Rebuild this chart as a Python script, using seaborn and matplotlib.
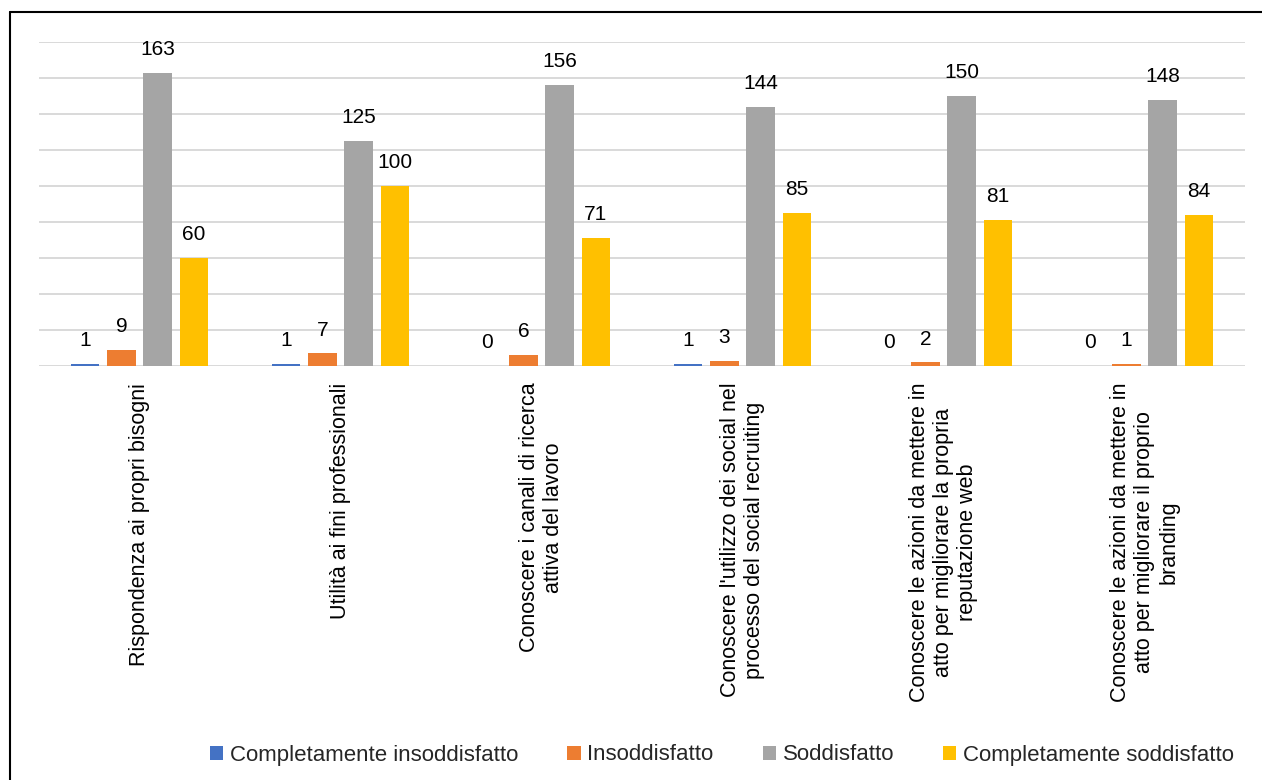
import matplotlib
matplotlib.use("Agg")
import matplotlib.pyplot as plt
from matplotlib.lines import Line2D
import seaborn as sns
import pandas as pd

categorie = [
    "Rispondenza ai propri bisogni",
    "Utilità ai fini professionali",
    "Conoscere i canali di ricerca\nattiva del lavoro",
    "Conoscere l'utilizzo dei social nel\nprocesso del social recruiting",
    "Conoscere le azioni da mettere in\natto per migliorare la propria\nreputazione web",
    "Conoscere le azioni da mettere in\natto per migliorare il proprio\nbranding",
]
giudizi = ["Completamente insoddisfatto", "Insoddisfatto", "Soddisfatto", "Completamente soddisfatto"]
compl_insoddisfatto = [1, 1, 0, 1, 0, 0]
insoddisfatto = [9, 7, 6, 3, 2, 1]
soddisfatto = [163, 125, 156, 144, 150, 148]
compl_soddisfatto = [60, 100, 71, 85, 81, 84]
colori = ["#4472C4", "#ED7D31", "#A5A5A5", "#FFC000"]

serie = [compl_insoddisfatto, insoddisfatto, soddisfatto, compl_soddisfatto]
righe = []
for g, vals in zip(giudizi, serie):
    for c, v in zip(categorie, vals):
        righe.append({"categoria": c, "giudizio": g, "valore": v})
df = pd.DataFrame(righe)

sns.set_theme(style="white")
plt.rcParams["font.family"] = ["Liberation Sans", "DejaVu Sans"]

fig = plt.figure(figsize=(12.62, 7.8), dpi=100)
ax = fig.add_axes([39 / 1262, 414 / 780, 1206 / 1262, 324 / 780])

sns.barplot(data=df, x="categoria", y="valore", hue="giudizio", order=categorie,
            hue_order=giudizi, palette=colori, saturation=1, width=0.7225, gap=0.21,
            linewidth=0, ax=ax, legend=True)

ax.set_ylim(0, 180)
ax.set_xlim(-0.5, 5.5)
ax.set_yticks(range(0, 181, 20))
ax.set_yticklabels([])
ax.yaxis.grid(True, color="#D9D9D9", linewidth=1.4)
ax.set_axisbelow(True)
for s in ax.spines.values():
    s.set_visible(False)
ax.set_xlabel("")
ax.set_ylabel("")
ax.tick_params(axis="both", length=0)
ax.tick_params(axis="x", pad=12, labelsize=15.5, labelcolor="black")
for t in ax.get_xticklabels():
    t.set_rotation(90)
    t.set_multialignment("center")

for cont in ax.containers:
    ax.bar_label(cont, fmt="%d", padding=10, fontsize=15, color="black")

handles, labels = ax.get_legend_handles_labels()
ax.get_legend().remove()
fig.legend(handles, labels, loc="center", bbox_to_anchor=(722 / 1262, 1 - 755 / 780),
           ncol=4, frameon=False, fontsize=16, handlelength=0.6, handleheight=0.6,
           handletextpad=0.3, columnspacing=2.2)

# cornice del grafico
fig.add_artist(Line2D([10 / 1262, 10 / 1262], [0, 1 - 12 / 780], transform=fig.transFigure,
                      color="black", linewidth=1.5))
fig.add_artist(Line2D([10 / 1262, 1], [1 - 12 / 780, 1 - 12 / 780], transform=fig.transFigure,
                      color="black", linewidth=1.5))

fig.savefig("out.png", dpi=100)
